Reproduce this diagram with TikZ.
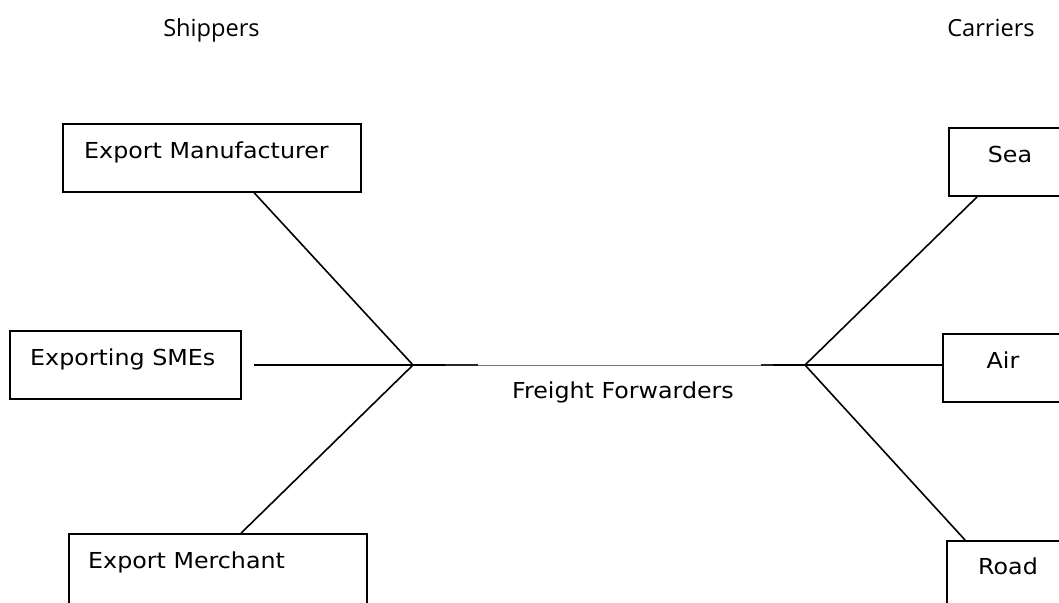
\documentclass[tikz,border=0pt]{standalone}
\usepackage{fontspec}
\usetikzlibrary{calc}
\newfontfamily\hdrfont{Open Sans}
\newfontfamily\boxfont[FakeStretch=1.08]{DejaVu Sans}
\begin{document}
\begin{tikzpicture}[x=1pt,y=-1pt,
  box/.style={draw=black,line width=1.8pt,rectangle,inner sep=0pt},
  conn/.style={draw=black,line width=1.6pt},
  boxlbl/.style={inner sep=0pt,font=\boxfont\fontsize{22}{26}\selectfont},
  hdr/.style={inner sep=0pt,anchor=base,font=\hdrfont\fontsize{23.6}{28}\selectfont}]
\useasboundingbox (0,0) rectangle (1059,602);
\clip (0,0) rectangle (1059,602);
\fill[white] (0,0) rectangle (1059,602);
% headers
\node[hdr] (shp) at (211.5,37) {Shippers};
\node[hdr] (car) at (991,37) {Carriers};
% shipper boxes
\node[box,minimum width=298pt,minimum height=68pt] (em) at (212,158) {};
\node[box,minimum width=231pt,minimum height=68pt] (sme) at (125.5,365) {};
\node[box,minimum width=298pt,minimum height=76pt] (mer) at (218,572) {};
\node[boxlbl,anchor=base west] (emt) at (84,158) {Export Manufacturer};
\node[boxlbl,anchor=base west] (smet) at (30,365) {Exporting SMEs};
\node[boxlbl,anchor=base west] (mert) at (88,568) {Export Merchant};
% carrier boxes
\node[box,minimum width=130pt,minimum height=68pt] (sea) at (1014,162) {};
\node[box,minimum width=130pt,minimum height=68pt] (air) at (1008,368) {};
\node[box,minimum width=130pt,minimum height=76pt] (road) at (1012,579) {};
\node[boxlbl,anchor=base] (seat) at (1010,162) {Sea};
\node[boxlbl,anchor=base] (airt) at (1003,368) {Air};
\node[boxlbl,anchor=base] (roadt) at (1008,574) {Road};
% junctions
\coordinate (jl) at (413,365);
\coordinate (jr) at (805,365);
\coordinate (l1) at (445,365);
\coordinate (l2) at (478,365);
\coordinate (r2) at (761,365);
\coordinate (r1) at (773,365);
% left connectors
\draw[conn] ($(em.south west)!0.641!(em.south east)$) -- (jl);
\draw[conn] ([xshift=12pt]sme.east) -- (jl);
\draw[conn] ($(mer.north west)!0.577!(mer.north east)$) -- (jl);
% right connectors
\draw[conn] ([xshift=29pt]sea.south west) -- (jr);
\draw[conn] (jr) -- (air.west |- jr);
\draw[conn] ([xshift=19pt]road.north west) -- (jr);
% freight forwarders line
\draw[black,line width=1.8pt] (jl) -- (l1);
\draw[black!85,line width=1.3pt] (l1) -- (l2);
\draw[black!55,line width=1pt] (l2) -- (r2);
\draw[black!85,line width=1.3pt] (r2) -- (r1);
\draw[black,line width=1.8pt] (r1) -- (jr);
\node[boxlbl,anchor=base] (ff) at (623,398) {Freight Forwarders};
\end{tikzpicture}
\end{document}
